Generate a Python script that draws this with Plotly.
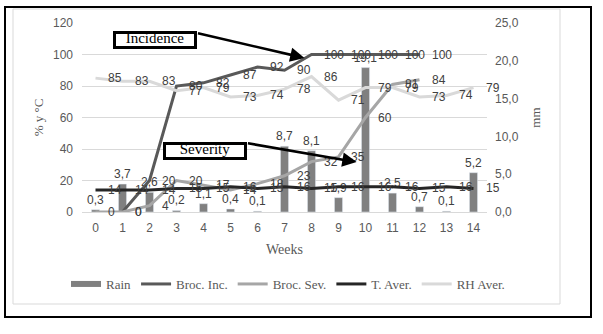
import plotly.graph_objects as go

# Weekly field data
weeks = list(range(15))
rain_mm = [0.3, 3.7, 2.6, 0.2, 1.1, 0.4, 0.1, 8.7, 8.1, 1.9, 19.1, 2.5, 0.7, 0.1, 5.2]
broc_inc = [None, 0, 20, 80, 82, 87, 92, 90, 100, 100, 100, 100, 100, None, None]
broc_sev = [0, 0, 4, 20, 17, 14, 18, 23, 32, 35, 60, 81, 84, None, None]
t_aver = [14, 14, 14, 15, 15, 16, 15, 16, 15, 16, 16, 16, 15, 16, 15]
rh_aver = [85, 83, 83, 77, 79, 73, 74, 78, 86, 71, 79, 79, 73, 74, 79]

SANS = "Liberation Sans"
SERIF = "Liberation Serif"
GREY_TXT = "#595959"
LBL_TXT = "#404040"

line_series = [
    ("Broc. Inc.", broc_inc, "#595959"),
    ("Broc. Sev.", broc_sev, "#a6a6a6"),
    ("T. Aver.", t_aver, "#262626"),
    ("RH Aver.", rh_aver, "#d9d9d9"),
]

fig = go.Figure()

# Rain bars on the right-hand (mm) axis
fig.add_trace(go.Bar(
    x=weeks, y=rain_mm, width=0.3, marker_color="#808080",
    text=[f"{v:.1f}".replace(".", ",") for v in rain_mm],
    textposition="outside", constraintext="none", cliponaxis=False,
    textfont=dict(family=SANS, size=12, color=LBL_TXT),
    showlegend=False, yaxis="y",
))
# legend swatch for rain
fig.add_trace(go.Scatter(x=[None], y=[None], mode="lines", name="Rain",
                         line=dict(color="#808080", width=6), yaxis="y"))

for name, vals, col in line_series:
    fig.add_trace(go.Scatter(x=weeks, y=vals, mode="lines", name=name,
                             line=dict(color=col, width=3), yaxis="y2",
                             connectgaps=False))

annotations = []
for name, vals, col in line_series:
    for w, v in zip(weeks, vals):
        if v is None:
            continue
        annotations.append(dict(x=w, y=v, xref="x", yref="y2", text=str(v),
                                showarrow=False, xanchor="left", xshift=10,
                                font=dict(family=SANS, size=12, color=LBL_TXT)))

# call-out boxes
for txt, cx, cy in [("Incidence", 2.185, 109.2), ("Severity", 4.07, 38.7)]:
    annotations.append(dict(x=cx, y=cy, xref="x", yref="y2", text=txt,
                            showarrow=False, width=78, height=12,
                            align="center", valign="bottom",
                            borderwidth=3, bordercolor="black", borderpad=0,
                            bgcolor="white",
                            font=dict(family=SERIF, size=15, color="black")))
# arrows from the boxes
for tx, ty, hx, hy in [(3.74, 113.7, 7.74, 97.8), (5.59, 43.8, 9.67, 31.7)]:
    annotations.append(dict(x=hx, y=hy, ax=tx, ay=ty, xref="x", yref="y2",
                            axref="x", ayref="y2", text="", showarrow=True,
                            arrowhead=2, arrowsize=1.1, arrowwidth=2.6,
                            arrowcolor="black", standoff=0, startstandoff=0))

px0, px1, py0, py1 = 82, 487, 23, 212


def paper_x(p):
    return (p - px0) / (px1 - px0)


def paper_y(p):
    return (py1 - p) / (py1 - py0)


shapes = [
    dict(type="rect", xref="paper", yref="paper",
         x0=paper_x(13), x1=paper_x(560), y0=paper_y(304), y1=paper_y(9),
         line=dict(color="#d9d9d9", width=1)),
    dict(type="rect", xref="paper", yref="paper",
         x0=paper_x(5), x1=paper_x(591), y0=paper_y(317), y1=paper_y(7),
         line=dict(color="black", width=2)),
]

fig.update_layout(
    width=603, height=334, autosize=False,
    margin=dict(l=px0, r=603 - px1, t=py0, b=334 - py1),
    paper_bgcolor="white", plot_bgcolor="white",
    separators=", ",
    annotations=annotations, shapes=shapes,
    xaxis=dict(range=[-0.5, 14.5], dtick=1, tick0=0, showgrid=False,
               zeroline=False, showline=True, linecolor="#d9d9d9",
               tickfont=dict(family=SANS, size=12, color=GREY_TXT),
               ticklabelstandoff=5,
               title=dict(text="Weeks", standoff=9,
                          font=dict(family=SERIF, size=14, color=GREY_TXT))),
    yaxis=dict(range=[0, 25], dtick=5, side="right", showgrid=False,
               zeroline=False, tickformat=".1f",
               tickfont=dict(family=SANS, size=12, color=GREY_TXT),
               ticklabelstandoff=7,
               title=dict(text="mm", standoff=13,
                          font=dict(family=SERIF, size=13, color=GREY_TXT))),
    yaxis2=dict(range=[0, 120], dtick=20, side="left", overlaying="y",
                showgrid=True, gridcolor="#d9d9d9", gridwidth=1,
                zeroline=False,
                tickfont=dict(family=SANS, size=12, color=GREY_TXT),
                ticklabelstandoff=8,
                title=dict(text="% y °C", standoff=6,
                           font=dict(family=SERIF, size=13, color=GREY_TXT))),
    legend=dict(orientation="h", x=paper_x(66), xanchor="left",
                y=paper_y(284), yanchor="middle",
                font=dict(family=SERIF, size=13, color=GREY_TXT),
                bgcolor="rgba(0,0,0,0)"),
    showlegend=True,
)

fig.write_html("out.html")
